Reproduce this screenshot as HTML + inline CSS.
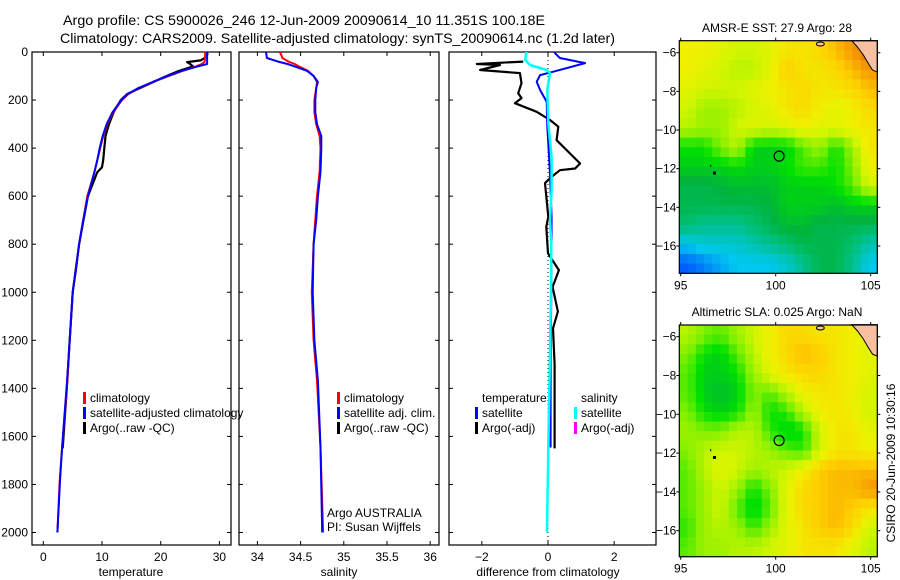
<!DOCTYPE html>
<html><head><meta charset="utf-8">
<style>
html,body{margin:0;padding:0;background:#fff;}
svg{display:block;font-family:"Liberation Sans",sans-serif;}
text{fill:#000;}
</style></head>
<body>
<svg id="fig" width="900" height="580" viewBox="0 0 900 580" xmlns="http://www.w3.org/2000/svg">
<text x="63" y="25" font-size="14" textLength="482" lengthAdjust="spacingAndGlyphs">Argo profile: CS 5900026_246 12-Jun-2009 20090614_10 11.351S 100.18E</text>
<text x="60" y="43" font-size="14" textLength="555" lengthAdjust="spacingAndGlyphs">Climatology: CARS2009. Satellite-adjusted climatology: synTS_20090614.nc (1.2d later)</text>
<g id="layer"></g>
</svg>
<script>
// ---- profile data ----
const depthT = [0,40,50,60,80,100,120,150,175,200,250,300,350,400,450,500,600,700,800,900,1000,1200,1367,1646,1785,2000];
const satT = [27.9,27.9,27.9,26.3,23.4,21.2,19.1,16.2,14.4,13.3,11.8,10.8,10.1,9.6,9.2,8.7,7.6,6.8,6.1,5.6,5.0,4.5,4.05,3.2,2.85,2.4];
const climT = [27.6,27.5,27.0,26.0,23.6,21.4,19.2,16.3,14.5,13.4,11.9,10.9,10.2,9.7,9.2,8.7,7.5,6.8,6.1,5.6,5.0,4.5,4.1,3.2,2.8,2.4];
const depthArgo = [5,20,35,42,50,60,80,100,150,175,200,250,300,350,400,450,480,500,600,800,1000,1200,1400,1650];
const argoT = [28.0,27.8,26.8,24.5,25.0,25.5,23.0,21.0,16.5,14.3,13.2,12.0,11.2,10.6,10.4,10.2,10.0,9.2,7.6,6.1,5.0,4.5,4.0,3.3];
const depthS = [0,25,40,50,60,75,80,100,125,150,200,250,300,350,400,500,600,700,800,1000,1200,1367,1646,2000];
const satS = [34.10,34.11,34.24,34.35,34.43,34.55,34.58,34.65,34.70,34.68,34.67,34.67,34.69,34.74,34.74,34.73,34.70,34.68,34.65,34.64,34.66,34.70,34.73,34.75];
const climS = [34.26,34.29,34.36,34.43,34.48,34.57,34.59,34.65,34.69,34.68,34.66,34.66,34.68,34.72,34.73,34.72,34.69,34.67,34.65,34.63,34.65,34.69,34.73,34.76];
const depthDT = [0,5,25,46,82,96,124,158,207,311,505,686,1000,1300,1646];
const diffSatT = [0.2,0.21,0.36,1.12,0.16,-0.24,-0.34,-0.24,-0.04,-0.02,0.06,0.11,0.1,0.08,0.08];
const depthDS = [0,5,33,54,75,88,158,297,436,575,700,800,1000,1646,2000];
const diffSatS = [-0.66,-0.66,-0.69,-0.54,-0.04,0.06,-0.02,0.01,0.11,0.11,0.06,0.1,0.09,0.01,-0.03];
const depthDA = [40,50,54,75,88,130,172,192,213,249,283,311,367,408,464,485,492,525,546,686,728,838,908,978,1080,1150,1300,1450,1650];
const diffArgoT = [-0.75,-2.15,-1.45,-2.05,-0.85,-0.8,-0.9,-0.8,-1.0,-0.34,0.06,0.31,0.26,0.56,0.97,0.82,0.36,0.06,-0.09,0.01,-0.05,0,0.33,0.14,0.3,0.15,0.2,0.2,0.2];
const depthTicks = [0,200,400,600,800,1000,1200,1400,1600,1800,2000];
const tempTicks = [0,10,20,30];
const salTicks = [34,34.5,35,35.5,36];
const salTickLabels = ["34","34.5","35","35.5","36"];
const diffTicks = [-2,0,2];
const diffTickLabels = ["\u22122","0","2"];
// ---- map data (rows north->south, cols west->east) ----
const sstGrid = [
[0.68,0.68,0.66,0.64,0.64,0.66,0.70,0.70,0.72,0.76,0.80,0.85],
[0.68,0.66,0.64,0.62,0.62,0.66,0.74,0.70,0.70,0.72,0.76,0.80],
[0.66,0.64,0.64,0.64,0.66,0.68,0.70,0.72,0.70,0.70,0.72,0.76],
[0.64,0.60,0.60,0.62,0.64,0.66,0.70,0.72,0.68,0.66,0.68,0.72],
[0.62,0.60,0.60,0.64,0.66,0.64,0.66,0.68,0.66,0.66,0.68,0.70],
[0.52,0.52,0.58,0.62,0.50,0.50,0.50,0.56,0.60,0.52,0.60,0.70],
[0.50,0.50,0.50,0.52,0.50,0.50,0.52,0.55,0.55,0.52,0.58,0.68],
[0.46,0.46,0.47,0.48,0.48,0.48,0.50,0.50,0.50,0.52,0.56,0.64],
[0.46,0.46,0.46,0.46,0.46,0.47,0.50,0.50,0.50,0.48,0.50,0.50],
[0.44,0.42,0.42,0.42,0.44,0.46,0.48,0.48,0.46,0.46,0.46,0.46],
[0.36,0.38,0.38,0.38,0.40,0.42,0.44,0.46,0.46,0.46,0.44,0.40],
[0.30,0.32,0.34,0.36,0.36,0.36,0.38,0.42,0.46,0.46,0.42,0.36]];
const slaGrid = [
[0.62,0.58,0.56,0.60,0.64,0.68,0.72,0.72,0.70,0.70,0.68,0.66],
[0.58,0.52,0.50,0.56,0.62,0.68,0.72,0.76,0.74,0.70,0.68,0.66],
[0.56,0.50,0.50,0.52,0.60,0.66,0.70,0.72,0.72,0.70,0.68,0.66],
[0.56,0.50,0.48,0.50,0.58,0.56,0.62,0.68,0.70,0.70,0.68,0.64],
[0.58,0.52,0.50,0.52,0.60,0.52,0.54,0.62,0.68,0.70,0.68,0.64],
[0.60,0.58,0.58,0.62,0.62,0.54,0.50,0.52,0.64,0.70,0.70,0.66],
[0.58,0.62,0.64,0.64,0.62,0.60,0.56,0.54,0.64,0.70,0.70,0.68],
[0.56,0.62,0.66,0.64,0.60,0.62,0.64,0.68,0.74,0.76,0.76,0.76],
[0.56,0.60,0.64,0.60,0.52,0.58,0.66,0.72,0.74,0.76,0.76,0.80],
[0.56,0.60,0.64,0.56,0.50,0.56,0.66,0.72,0.74,0.76,0.74,0.70],
[0.54,0.60,0.62,0.60,0.54,0.60,0.66,0.70,0.74,0.76,0.72,0.64],
[0.56,0.60,0.60,0.62,0.62,0.64,0.66,0.70,0.70,0.70,0.66,0.62]];
const latTicks = [-6,-8,-10,-12,-14,-16];
const lonTicks = [95,100,105];
const argoLon = 100.18, argoLat = -11.35;

const NS = "http://www.w3.org/2000/svg";
const layer = document.getElementById('layer');
function mk(tag, attrs, parent){ const e=document.createElementNS(NS,tag); for(const k in attrs) e.setAttribute(k,attrs[k]); (parent||layer).appendChild(e); return e; }
function txt(x,y,s,size,anchor,parent){ const t=mk('text',{x:x,y:y,'font-size':size,'text-anchor':anchor||'start'},parent); t.textContent=s; return t; }

// profile axes
const yTop=52, yBot=545;
const yD = d => yTop + (d)*(532.5-52)/2000;
const panels = [
 {name:'temperature', x0:32, x1:231, f:v=>43.3+v*5.87},
 {name:'salinity', x0:239, x1:439, f:v=>257.4+(v-34)*86.4},
 {name:'difference', x0:449, x1:656, f:v=>548+v*33.1}];

function line(xs,ds,fx,color,w,name){
  const pts = xs.map((v,i)=>fx(v).toFixed(1)+','+yD(ds[i]).toFixed(1)).join(' ');
  const p = mk('polyline',{points:pts,fill:'none',stroke:color,'stroke-width':w,'stroke-linejoin':'round'});
  
  
  return p;
}

panels.forEach((p,pi)=>{
  const g = mk('g',{});
  
  
  mk('rect',{x:p.x0,y:yTop,width:p.x1-p.x0,height:yBot-yTop,fill:'#fff',stroke:'#000','stroke-width':1.2},g);
  depthTicks.forEach(d=>{
    mk('line',{x1:p.x0,x2:p.x0+4,y1:yD(d),y2:yD(d),stroke:'#000'},g);
    mk('line',{x1:p.x1,x2:p.x1-4,y1:yD(d),y2:yD(d),stroke:'#000'},g);
    if(pi===0){ const t=txt(28,yD(d)+4,String(d),12,'end',g);
      
       }
  });
});
// x ticks
function xticks(p,ticks,labels){
  ticks.forEach((v,i)=>{
    const x=p.f(v);
    mk('line',{x1:x,x2:x,y1:yBot,y2:yBot-4,stroke:'#000'});
    mk('line',{x1:x,x2:x,y1:yTop,y2:yTop+4,stroke:'#000'});
    const t=txt(x,561,labels[i],12,'middle');
    
    
  });
}
xticks(panels[0],tempTicks,tempTicks.map(String));
xticks(panels[1],salTicks,salTickLabels);
xticks(panels[2],diffTicks,diffTickLabels);
[['temperature',131],['salinity',339],['difference from climatology',548]].forEach(a=>{
  const t=txt(a[1],576,a[0],12,'middle');
  
  
});

// series
const P0=panels[0].f, P1=panels[1].f, P2=panels[2].f;
line(argoT,depthArgo,P0,'#000',2.2,'argo-temperature-line');
line(climT,depthT,P0,'#f00',2,'climatology-temperature-line');
line(satT,depthT,P0,'#00f',2,'satellite-temperature-line');
line(climS,depthS,P1,'#f00',2,'climatology-salinity-line');
line(satS,depthS,P1,'#00f',2,'satellite-salinity-line');
const zl = mk('line',{x1:P2(0),x2:P2(0),y1:yTop,y2:yBot,stroke:'#000','stroke-dasharray':'1,3','stroke-width':1});


line(diffArgoT,depthDA,P2,'#000',2.2,'argo-temperature-difference-line');
line(diffSatT,depthDT,P2,'#00f',2,'satellite-temperature-difference-line');
line(diffSatS,depthDS,P2,'#0ff',2.5,'satellite-salinity-difference-line');

// legends
function legend(x,y,color,label,name){
  const g=mk('g',{});
  
  
  if(color) mk('rect',{x:x-7,y:y-10,width:3,height:12,fill:color},g);
  txt(x,y,label,12,'start',g);
}
legend(90,402,'#f00','climatology','legend-climatology');
legend(90,417,'#00f','satellite-adjusted climatology','legend-satellite-adjusted');
legend(90,432,'#000','Argo(..raw -QC)','legend-argo');
legend(344,402,'#f00','climatology','legend-sal-climatology');
legend(344,417,'#00f','satellite adj. clim.','legend-sal-satellite');
legend(344,432,'#000','Argo(..raw -QC)','legend-sal-argo');
legend(482,402,null,'temperature','legend-temperature-header');
legend(482,417,'#00f','satellite','legend-diff-temp-satellite');
legend(482,432,'#000','Argo(-adj)','legend-diff-temp-argo');
legend(581,402,null,'salinity','legend-salinity-header');
legend(581,417,'#0ff','satellite','legend-diff-sal-satellite');
legend(581,432,'#f0f','Argo(-adj)','legend-diff-sal-argo');
legend(327,517,null,'Argo AUSTRALIA','argo-agency-label');
legend(327,531,null,'PI: Susan Wijffels','pi-name-label');

// colormap
const stops=[[0.28,[0,60,255]],[0.36,[0,200,240]],[0.44,[0,190,110]],[0.47,[0,180,60]],[0.52,[0,225,0]],[0.58,[130,240,0]],[0.64,[210,245,0]],[0.68,[240,240,0]],[0.74,[255,205,0]],[0.80,[245,150,0]],[0.88,[225,90,0]]];
function cmap(v){
  if(v<=stops[0][0]) return stops[0][1];
  for(let i=1;i<stops.length;i++){ if(v<=stops[i][0]){ const a=stops[i-1],b=stops[i],t=(v-a[0])/(b[0]-a[0]); return a[1].map((c,k)=>Math.round(c+(b[1][k]-c)*t)); } }
  return stops[stops.length-1][1];
}
function drawMap(cfg){
  const g=mk('g',{});
  
  
  const {x0,x1,y0,y1,grid}=cfg;
  const lonX = lon => 680.7+(lon-95)*19.0;
  const latY = lat => cfg.lat6 + (-6-lat)*cfg.ppd;
  const R=grid.length, C=grid[0].length, up=2;
  const cw=(x1-x0)/(C*up), ch=(y1-y0)/(R*up);
  for(let r=0;r<R*up;r++) for(let c=0;c<C*up;c++){
    const fr=Math.min(R-1,Math.max(0,(r+0.5)/up-0.5)), fc=Math.min(C-1,Math.max(0,(c+0.5)/up-0.5));
    const r0=Math.floor(fr), c0=Math.floor(fc), r1=Math.min(R-1,r0+1), c1=Math.min(C-1,c0+1), tr=fr-r0, tc=fc-c0;
    const v=grid[r0][c0]*(1-tr)*(1-tc)+grid[r0][c1]*(1-tr)*tc+grid[r1][c0]*tr*(1-tc)+grid[r1][c1]*tr*tc;
    const col=cmap(v);
    const cell=mk('rect',{x:(x0+c*cw).toFixed(2),y:(y0+r*ch).toFixed(2),width:(cw+0.6).toFixed(2),height:(ch+0.6).toFixed(2),fill:`rgb(${col})`},g);
  }
  // land
  const land=[[104.0,-5.38],[104.3,-5.7],[104.6,-6.1],[104.9,-6.6],[105.1,-6.9],[105.35,-7.0],[105.35,-5.38]];
  mk('polygon',{points:land.map(p=>lonX(p[0])+','+latY(p[1])).join(' '),fill:'#f8c0a0',stroke:'#000','stroke-width':1},g);
  mk('ellipse',{cx:lonX(102.35),cy:latY(-5.55),rx:4,ry:2,fill:'#f8c0a0',stroke:'#000'},g);
  mk('rect',{x:lonX(96.75)-1,y:latY(-12.2)-1,width:3,height:3,fill:'#000'},g);
  mk('rect',{x:lonX(96.55),y:latY(-11.8),width:1,height:2,fill:'#000'},g);
  const c=mk('circle',{cx:lonX(argoLon),cy:latY(argoLat),r:5,fill:'none',stroke:'#000','stroke-width':1.2},g);
  
  
  mk('rect',{x:x0,y:y0,width:x1-x0,height:y1-y0,fill:'none',stroke:'#000','stroke-width':1.2},g);
  latTicks.forEach(l=>{
    const y=latY(l);
    mk('line',{x1:x0-3,x2:x0,y1:y,y2:y,stroke:'#000'},g);
    mk('line',{x1:x1,x2:x1+3,y1:y,y2:y,stroke:'#000'},g);
    const t=txt(x0-3,y+4,String(l).replace('-','\u2212'),12,'end',g);
    
    
  });
  lonTicks.forEach(l=>{
    const x=lonX(l);
    mk('line',{x1:x,x2:x,y1:y0-3,y2:y0,stroke:'#000'},g);
    mk('line',{x1:x,x2:x,y1:y1,y2:y1+3,stroke:'#000'},g);
    const t=txt(x,y1+16,String(l),12,'middle',g);
    
    
  });
  const tt=txt(777,cfg.titleY,cfg.title,12,'middle',g);
  
  
}
drawMap({name:'sst-map',x0:679.3,x1:877.3,y0:40.7,y1:273.3,lat6:52.7,ppd:19.33,grid:sstGrid,title:'AMSR-E SST: 27.9 Argo: 28',titleY:32});
drawMap({name:'sla-map',x0:679.3,x1:877.3,y0:325,y1:556.7,lat6:336.7,ppd:19.4,grid:slaGrid,title:'Altimetric SLA: 0.025 Argo: NaN',titleY:316});
const st=txt(0,0,'CSIRO 20-Jun-2009 10:30:16',12,'middle');
st.setAttribute('transform','translate(895,463) rotate(-90)');


</script>
</body></html>
